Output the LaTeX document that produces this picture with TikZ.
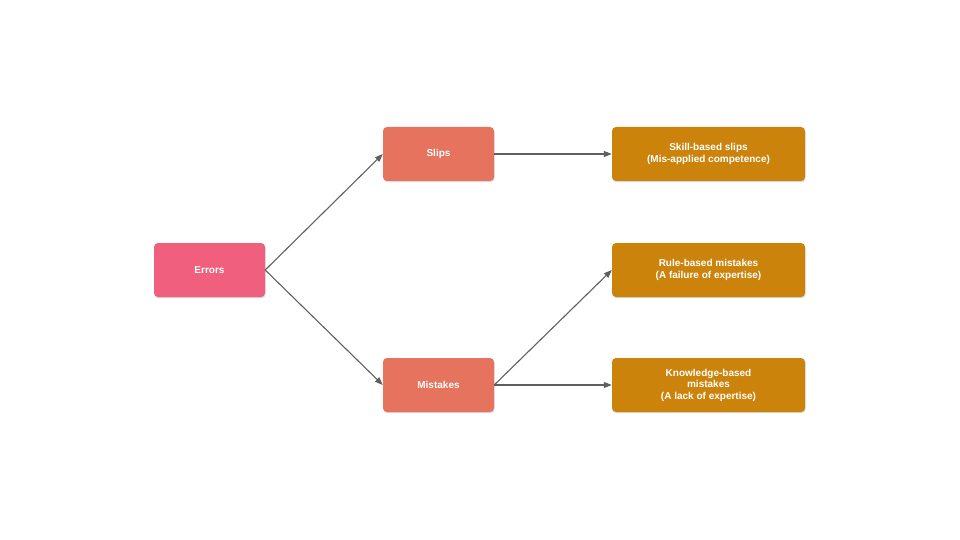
\documentclass[tikz,border=0pt]{standalone}
\usepackage{fontspec}
\setmainfont{Liberation Sans}
\usetikzlibrary{arrows.meta,shadows}
\definecolor{errc}{HTML}{F0607E}
\definecolor{midc}{HTML}{E5735D}
\definecolor{orc}{HTML}{CC830C}
\definecolor{arc}{HTML}{5F5F5F}
\tikzset{
  box/.style={rounded corners=4pt, text=white, font=\bfseries\fontsize{10}{11.5}\selectfont, align=center, inner sep=0pt, drop shadow={shadow xshift=0.6pt, shadow yshift=-1.2pt, opacity=0.3}},
  conn/.style={draw=arc, line width=1.1pt, -{Triangle[length=8pt,width=6pt]}}
}
\begin{document}
\begin{tikzpicture}[x=1pt,y=-1pt]
\useasboundingbox (0,0) rectangle (960,540);
\node[box, fill=errc, minimum width=111pt, minimum height=54pt] (err) at (209.5,270) {Errors};
\node[box, fill=midc, minimum width=111pt, minimum height=54pt] (slips) at (438.5,154) {Slips};
\node[box, fill=midc, minimum width=111pt, minimum height=54pt] (mist) at (438.5,385) {Mistakes};
\node[box, fill=orc, minimum width=193pt, minimum height=54pt] (skill) at (708.5,154) {Skill-based slips\\(Mis-applied competence)};
\node[box, fill=orc, minimum width=193pt, minimum height=54pt] (rule) at (708.5,270) {Rule-based mistakes\\(A failure of expertise)};
\node[box, fill=orc, minimum width=193pt, minimum height=54pt] (know) at (708.5,385) {Knowledge-based\\mistakes\\(A lack of expertise)};
\draw[conn] (err.east) -- (slips.west);
\draw[conn] (err.east) -- (mist.west);
\draw[conn] (slips.east) -- (skill.west);
\draw[conn] (mist.east) -- (rule.west);
\draw[conn] (mist.east) -- (know.west);
\end{tikzpicture}
\end{document}
